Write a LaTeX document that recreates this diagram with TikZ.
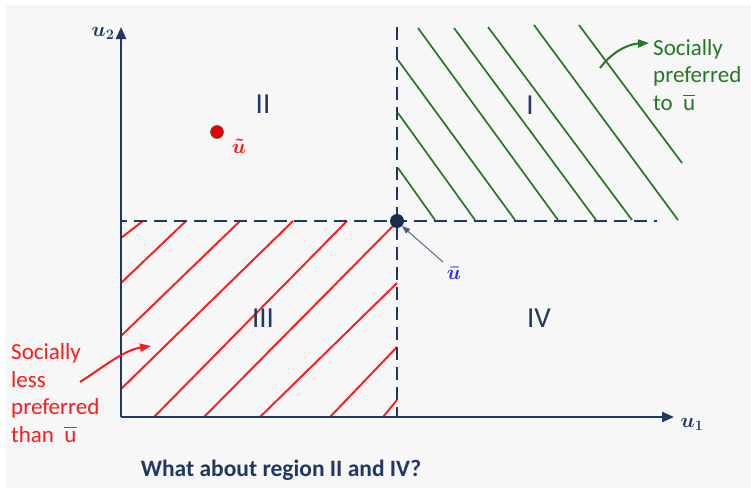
\documentclass[tikz,border=0pt]{standalone}
\usepackage{amsmath}
\usepackage{fontspec}
\setmainfont{Carlito}
\usetikzlibrary{arrows.meta}
\definecolor{navy}{HTML}{1F3864}
\definecolor{dgreen}{HTML}{237A23}
\definecolor{hred}{HTML}{FF1A1A}
\definecolor{lblue}{HTML}{2B2BFF}
\definecolor{bggray}{HTML}{F7F7F7}
\begin{document}
\begin{tikzpicture}[x=1pt,y=-1pt,
  axis/.style={navy,line width=2.4pt,-{Triangle[length=12pt,width=10pt]}},
  dashline/.style={navy,line width=2pt,dash pattern=on 13pt off 7pt},
  ghatch/.style={dgreen,line width=1.7pt},
  rhatch/.style={hred,line width=1.9pt},
  region/.style={navy,font=\fontsize{29}{31}\selectfont,inner sep=0pt},
  note/.style={font=\fontsize{23}{27.5}\selectfont,inner sep=0pt,anchor=base west,align=left},
  axlabel/.style={navy,font=\fontsize{22}{24}\selectfont\boldmath,inner sep=0pt},
  dot/.style={circle,inner sep=0pt,minimum size=14pt}
]
\useasboundingbox (0,0) rectangle (751,490);
\fill[bggray] (6,5) rectangle (751,488);

% green hatch (region I)
\draw[ghatch] (398,168) -- (435,220);
\draw[ghatch] (398,113) -- (475,220);
\draw[ghatch] (398,60) -- (515,220);
\draw[ghatch] (418,28) -- (558,220);
\draw[ghatch] (454,28) -- (596,220);
\draw[ghatch] (488,27) -- (632,220);
\draw[ghatch] (534,25) -- (678,220);
\draw[ghatch] (579,25) -- (682,163);

% red hatch (region III)
\draw[rhatch] (121,238) -- (143,221);
\draw[rhatch] (121,283) -- (186,221);
\draw[rhatch] (121,336) -- (240,221);
\draw[rhatch] (121,389) -- (293,221);
\draw[rhatch] (154,417) -- (347,221);
\draw[rhatch] (204,417) -- (395,224);
\draw[rhatch] (260,417) -- (397,283);
\draw[rhatch] (330,417) -- (397,347);
\draw[rhatch] (383,417) -- (397,400);

% dashed lines
\coordinate (vtop) at (397,27);
\coordinate (vbot) at (397,417);
\coordinate (hleft) at (121,221);
\coordinate (hright) at (657,221);
\draw[dashline,dash phase=7pt] (hleft) -- (hright);
\draw[dashline] (vtop) -- (vbot);

% axes
\coordinate (O) at (121,417);
\coordinate (Y) at (121,27);
\coordinate (X) at (674,417);
\draw[axis] (O) -- (Y);
\draw[axis] (O) -- (X);
\node[axlabel] (u2) at (103,33) {$u_2$};
\node[axlabel] (u1) at (692,424) {$u_1$};

% points
\node[dot,fill=navy!80!black] (ubar) at (397,221) {};
\node[dot,fill=red!90!black,draw=gray!70!black,line width=0.6pt,minimum size=13pt] (utilde) at (217,132) {};
\node[hred,font=\fontsize{22}{24}\selectfont\boldmath,inner sep=0pt] (utl) at (239,146) {$\tilde{u}$};
\node[lblue,font=\fontsize{22}{24}\selectfont\boldmath,inner sep=0pt] (ubl) at (454,273) {$\bar{u}$};
\coordinate (ubarfrom) at (443,262);
\draw[navy!80,line width=0.9pt,-{Triangle[length=8pt,width=6pt]}] (ubarfrom) -- (ubar.south east);

% region labels
\node[region] (rI) at (530,105) {I};
\node[region] (rII) at (263,104) {II};
\node[region] (rIII) at (263,318) {III};
\node[region] (rIV) at (539,318) {IV};

% notes
\node[note,dgreen] (gnote) at (653,110) {Socially\\preferred\\to\ \ $\overline{\mbox{u}}$};
\coordinate (gfrom) at (600,68);
\coordinate (gto) at (649,43);
\draw[dgreen,line width=2pt,-{Triangle[length=11pt,width=8pt]}] (gfrom) .. controls (612,52) and (628,44) .. (gto);

\node[note,hred] (rnote) at (11,442) {Socially\\less\\preferred\\than\ \ $\overline{\mbox{u}}$};
\coordinate (rfrom) at (80,382);
\coordinate (rto) at (151,346);
\draw[hred,line width=2pt,-{Triangle[length=11pt,width=8pt]}] (rfrom) .. controls (102,368) and (124,350) .. (rto);

\node[navy,font=\fontsize{23.5}{26}\selectfont\bfseries,inner sep=0pt] (q) at (281,470) {What about region II and IV?};
\end{tikzpicture}
\end{document}
